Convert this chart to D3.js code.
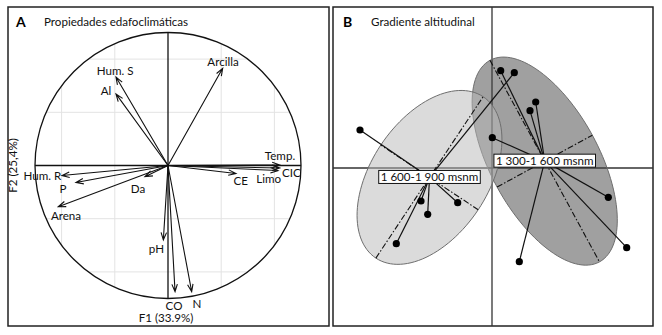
<!DOCTYPE html>
<html>
<head>
<meta charset="utf-8">
<script src="https://cdn.jsdelivr.net/npm/d3@7"></script>
<style>
  body { margin: 0; background: #fff; }
  svg { display: block; font-family: Lato, "Open Sans", sans-serif; }
  .lbl { font-size: 11.6px; fill: #111; }
</style>
</head>
<body>
<svg id="chart" width="662" height="335" viewBox="0 0 662 335"></svg>
<script>
// panel A: correlation circle
const variables = ["Hum. S", "Al", "Arcilla", "Temp.", "CIC", "Limo", "CE",
                   "Hum. R", "P", "Da", "Arena", "pH", "CO", "N"];
const loadF1 = [-0.391, -0.391, 0.411, 0.84, 0.84, 0.827, 0.511,
                -0.797, -0.692, -0.173, -0.825, -0.035, 0.053, 0.178];
const loadF2 = [0.665, 0.538, 0.731, 0.004, -0.019, -0.038, -0.06,
                -0.075, -0.128, -0.084, -0.31, -0.56, -0.949, -0.949];
// where each variable name sits (same units as the loadings)
const labelF1 = [-0.398, -0.466, 0.414, 0.842, 0.928, 0.757, 0.547,
                 -0.945, -0.789, -0.226, -0.767, -0.087, 0.045, 0.218];
const labelF2 = [0.714, 0.564, 0.782, 0.071, -0.056, -0.098, -0.117,
                 -0.079, -0.177, -0.177, -0.38, -0.628, -1.056, -1.041];
const gridTicks = [-0.8, -0.4, 0.4, 0.8];
const axisTitles = ["F1 (33.9%)", "F2 (25,4%)"];

// panel B: sites by altitude class
const groups = ["1 300-1 600 msnm", "1 600-1 900 msnm"];
const siteGroup = [1, 1, 1, 1, 1, 1, 0, 0, 0, 0, 0, 0, 0];
const siteX = [-2.64, 0.446, -1.42, -1.286, -0.686, -1.914,
               0.174, 0.874, 0.76, 0.006, 2.326, 2.694, 0.546];
const siteY = [0.76, 1.906, -0.66, -0.926, -0.694, -1.514,
               1.946, 1.32, 1.146, 0.606, -0.586, -1.594, -1.874];
const cellipse = 1.5;

const svg = d3.select("#chart");

function makeCircle(){
    let x = d3.scaleLinear().domain([-1, 1]).range([35, 301]);
    let y = d3.scaleLinear().domain([-1, 1]).range([298.5, 32.5]);
    let g = svg.append("g");

    g.append("rect")
        .attr("x", 8).attr("y", 7)
        .attr("width", 321).attr("height", 319)
        .attr("fill", "none").attr("stroke", "#222").attr("stroke-width", 1.5);

    g.append("clipPath").attr("id", "circ")
        .append("circle")
        .attr("cx", x(0)).attr("cy", y(0)).attr("r", x(1) - x(0));

    let grid = g.append("g").attr("clip-path", "url(#circ)")
        .attr("stroke", "#e3e3e3").attr("stroke-width", 1);
    grid.selectAll(".gv").data(gridTicks).enter().append("line")
        .attr("x1", d => x(d)).attr("x2", d => x(d))
        .attr("y1", y(1)).attr("y2", y(-1));
    grid.selectAll(".gh").data(gridTicks).enter().append("line")
        .attr("y1", d => y(d)).attr("y2", d => y(d))
        .attr("x1", x(-1)).attr("x2", x(1));

    g.append("circle")
        .attr("cx", x(0)).attr("cy", y(0)).attr("r", x(1) - x(0))
        .attr("fill", "none").attr("stroke", "#111").attr("stroke-width", 1.3);
    g.append("line")
        .attr("x1", x(-1)).attr("x2", x(1)).attr("y1", y(0)).attr("y2", y(0))
        .attr("stroke", "#111").attr("stroke-width", 1.3);
    g.append("line")
        .attr("x1", x(0)).attr("x2", x(0)).attr("y1", y(1)).attr("y2", y(-1))
        .attr("stroke", "#111").attr("stroke-width", 1.3);

    let arrows = variables.map(function(v, i){
        return {name: v, f1: loadF1[i], f2: loadF2[i], lx: labelF1[i], ly: labelF2[i]};
    });

    g.selectAll(".arrow")
        .data(arrows)
        .enter()
        .append("path")
        .attr("fill", "none").attr("stroke", "#111").attr("stroke-width", 1.1)
        .attr("d", function(d){
            let x0 = x(0), y0 = y(0), x1 = x(d.f1), y1 = y(d.f2);
            let ang = Math.atan2(y1 - y0, x1 - x0);
            let len = 8, spread = 0.35;
            let ax = x1 - len * Math.cos(ang - spread), ay = y1 - len * Math.sin(ang - spread);
            let bx = x1 - len * Math.cos(ang + spread), by = y1 - len * Math.sin(ang + spread);
            return "M" + x0 + "," + y0 + "L" + x1 + "," + y1 +
                   "M" + ax + "," + ay + "L" + x1 + "," + y1 + "L" + bx + "," + by;
        });

    g.selectAll(".varlbl")
        .data(arrows)
        .enter()
        .append("text")
        .attr("class", "lbl")
        .attr("text-anchor", "middle")
        .attr("dy", "0.35em")
        .attr("x", d => x(d.lx))
        .attr("y", d => y(d.ly))
        .text(d => d.name);

    g.append("text").attr("class", "lbl")
        .attr("text-anchor", "middle")
        .attr("x", x(0) - 2).attr("y", 322)
        .text(axisTitles[0]);
    g.append("text").attr("class", "lbl")
        .attr("text-anchor", "middle")
        .attr("transform", "translate(17," + y(0) + ") rotate(-90)")
        .text(axisTitles[1]);

    g.append("text")
        .attr("x", 16).attr("y", 27)
        .attr("font-size", "14px").attr("font-weight", "bold")
        .text("A");
    g.append("text").attr("class", "lbl")
        .attr("x", 44).attr("y", 26)
        .text("Propiedades edafoclimáticas");
}

function ellipseOf(pts){
    let mx = d3.mean(pts, p => p[0]), my = d3.mean(pts, p => p[1]);
    let n = pts.length;
    let vx = d3.sum(pts, p => (p[0] - mx) ** 2) / n;
    let vy = d3.sum(pts, p => (p[1] - my) ** 2) / n;
    let cxy = d3.sum(pts, p => (p[0] - mx) * (p[1] - my)) / n;
    let half = (vx + vy) / 2;
    let disc = Math.sqrt(half * half - (vx * vy - cxy * cxy));
    let l1 = half + disc, l2 = half - disc;
    let theta = 0.5 * Math.atan2(2 * cxy, vx - vy);
    return {cx: mx, cy: my,
            a: cellipse * Math.sqrt(l1), b: cellipse * Math.sqrt(l2),
            u: [Math.cos(theta), Math.sin(theta)],
            v: [-Math.sin(theta), Math.cos(theta)]};
}

function makeClasses(){
    let x = d3.scaleLinear().domain([-3.18, 3.22]).range([333, 653]);
    let y = d3.scaleLinear().domain([3.22, -3.16]).range([7, 326]);
    let g = svg.append("g");

    g.append("rect")
        .attr("x", 333).attr("y", 7)
        .attr("width", 320).attr("height", 319)
        .attr("fill", "none").attr("stroke", "#222").attr("stroke-width", 1.5);

    g.append("line")
        .attr("x1", x(0)).attr("x2", x(0)).attr("y1", 7).attr("y2", 326)
        .attr("stroke", "#333").attr("stroke-width", 1.3);
    g.append("line")
        .attr("x1", 333).attr("x2", 653).attr("y1", y(0)).attr("y2", y(0))
        .attr("stroke", "#333").attr("stroke-width", 1.3);

    let sites = siteX.map((v, i) => ({x: v, y: siteY[i], g: siteGroup[i]}));
    let classes = groups.map(function(name, k){
        let pts = sites.filter(s => s.g == k).map(s => [s.x, s.y]);
        return Object.assign({name: name, k: k, pts: pts}, ellipseOf(pts));
    });

    const fills = ["#424242", "#b8b8b8"];
    let line = d3.line().x(d => x(d[0])).y(d => y(d[1]));

    classes.forEach(function(c){
        let ring = d3.range(0, 361, 3).map(function(t){
            let r = t * Math.PI / 180;
            return [c.cx + c.a * Math.cos(r) * c.u[0] + c.b * Math.sin(r) * c.v[0],
                    c.cy + c.a * Math.cos(r) * c.u[1] + c.b * Math.sin(r) * c.v[1]];
        });
        g.append("path")
            .attr("d", line(ring) + "Z")
            .attr("fill", fills[c.k]).attr("fill-opacity", 0.5)
            .attr("stroke", "#6e6e6e").attr("stroke-width", 1);
    });

    classes.forEach(function(c){
        let axes = [
            [[c.cx - c.a * c.u[0], c.cy - c.a * c.u[1]], [c.cx + c.a * c.u[0], c.cy + c.a * c.u[1]]],
            [[c.cx - c.b * c.v[0], c.cy - c.b * c.v[1]], [c.cx + c.b * c.v[0], c.cy + c.b * c.v[1]]]
        ];
        g.selectAll(null).data(axes).enter().append("path")
            .attr("d", d => line(d))
            .attr("fill", "none").attr("stroke", "#111").attr("stroke-width", 1.1)
            .attr("stroke-dasharray", "6,2,1.5,2");

        g.selectAll(null).data(c.pts).enter().append("line")
            .attr("x1", x(c.cx)).attr("y1", y(c.cy))
            .attr("x2", d => x(d[0])).attr("y2", d => y(d[1]))
            .attr("stroke", "#111").attr("stroke-width", 1.2);
        g.selectAll(null).data(c.pts).enter().append("circle")
            .attr("cx", d => x(d[0])).attr("cy", d => y(d[1]))
            .attr("r", 3.6).attr("fill", "#000");
    });

    classes.forEach(function(c){
        let t = g.append("text").attr("class", "lbl")
            .attr("text-anchor", "middle").attr("dy", "0.35em")
            .attr("x", x(c.cx)).attr("y", y(c.cy))
            .text(c.name);
        let bb = t.node().getBBox();
        g.insert("rect", function(){ return t.node(); })
            .attr("x", bb.x - 2).attr("y", bb.y)
            .attr("width", bb.width + 4).attr("height", bb.height)
            .attr("fill", "#fff").attr("stroke", "#111").attr("stroke-width", 1);
    });

    g.append("text")
        .attr("x", 343).attr("y", 27)
        .attr("font-size", "14px").attr("font-weight", "bold")
        .text("B");
    g.append("text").attr("class", "lbl")
        .attr("x", 371).attr("y", 26)
        .text("Gradiente altitudinal");
}

makeCircle();
makeClasses();
</script>
</body>
</html>
